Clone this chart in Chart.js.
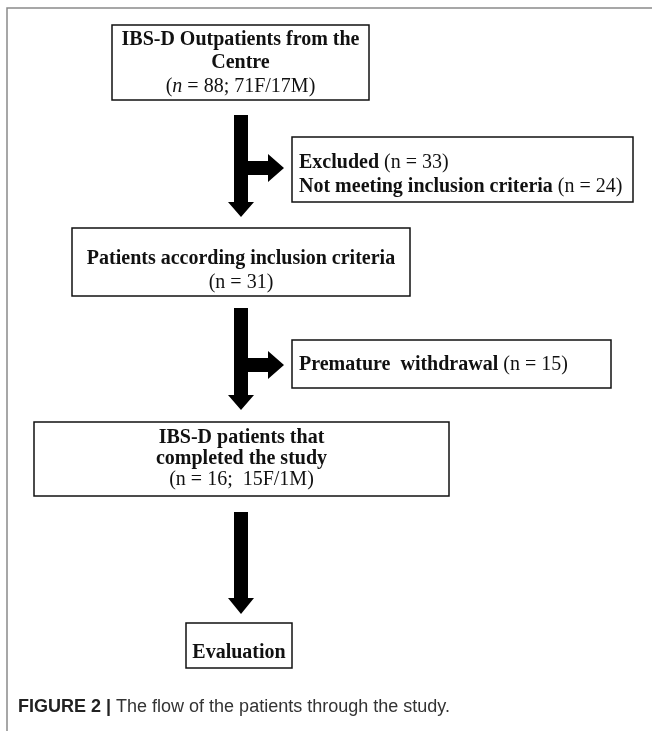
<!DOCTYPE html>
<html>
<head>
<meta charset="utf-8">
<script src="https://cdn.jsdelivr.net/npm/chart.js@4.4.1/dist/chart.umd.min.js"></script>
<style>
  body { margin: 0; background: #fff; }
  canvas { display: block; }
</style>
</head>
<body>
<canvas id="flowChart" width="652" height="731"></canvas>
<script>
// Étapes du parcours des patients
const stages = [
    'IBS-D Outpatients from the Centre',
    'Excluded',
    'Not meeting inclusion criteria',
    'Patients according inclusion criteria',
    'Premature  withdrawal',
    'IBS-D patients that completed the study',
    'Evaluation'
];
const patientCounts = [88, 33, 24, 31, 15, 16, null];
const femaleCounts = [71, null, null, null, null, 15, null];
const maleCounts = [17, null, null, null, null, 1, null];
const captionLabel = 'FIGURE 2 |';
const captionText = ' The flow of the patients through the study.';

// Mise en page (unités des échelles x / y)
const boxes = [
    { x0: 112, x1: 369, y0: 25, y1: 100, align: 'center', lines: [
        { y: 40, stage: 0, words: [0, 4] },
        { y: 63, stage: 0, words: [4, 5] },
        { y: 87, count: 0, italicN: true }
    ] },
    { x0: 292, x1: 633, y0: 137, y1: 202, align: 'left', tx: 299, lines: [
        { y: 163, stage: 1, count: 1 },
        { y: 187, stage: 2, count: 2 }
    ] },
    { x0: 72, x1: 410, y0: 228, y1: 296, align: 'center', lines: [
        { y: 259, stage: 3 },
        { y: 283, count: 3 }
    ] },
    { x0: 292, x1: 611, y0: 340, y1: 388, align: 'left', tx: 299, lines: [
        { y: 365, stage: 4, count: 4 }
    ] },
    { x0: 34, x1: 449, y0: 422, y1: 496, align: 'center', lines: [
        { y: 438, stage: 5, words: [0, 3] },
        { y: 459, stage: 5, words: [3, 6] },
        { y: 480, count: 5, sep: ';  ' }
    ] },
    { x0: 186, x1: 292, y0: 623, y1: 668, align: 'center', lines: [
        { y: 653, stage: 6 }
    ] }
];
// Flèches : tige verticale, branche éventuelle vers la droite
const arrows = [
    { x: 241, top: 115, headBase: 202, tip: 217, branchY: 168, branchEnd: 268, branchTip: 284 },
    { x: 241, top: 308, headBase: 395, tip: 410, branchY: 365, branchEnd: 268, branchTip: 284 },
    { x: 241, top: 512, headBase: 598, tip: 614 }
];

const SERIF = '"Liberation Serif", "DejaVu Serif", serif';
const FONT_SIZE = 20;

function lineRuns(line) {
    const runs = [];
    if (line.stage !== undefined) {
        let txt = stages[line.stage];
        if (line.words) {
            txt = txt.split(' ').slice(line.words[0], line.words[1]).join(' ');
        }
        runs.push([txt, 'bold']);
    }
    if (line.count !== undefined) {
        const i = line.count;
        const pre = runs.length ? ' (' : '(';
        if (line.italicN) {
            runs.push([pre, '']);
            runs.push(['n', 'italic']);
            runs.push([' = ' + patientCounts[i], '']);
        } else {
            runs.push([pre + 'n = ' + patientCounts[i], '']);
        }
        if (femaleCounts[i] !== null) {
            runs.push([(line.sep || '; ') + femaleCounts[i] + 'F/' + maleCounts[i] + 'M)', '']);
        } else {
            runs.push([')', '']);
        }
    }
    return runs;
}

const flowPlugin = {
    id: 'flowPlugin',
    afterDraw(chart) {
        const ctx = chart.ctx;
        const sx = chart.scales.x, sy = chart.scales.y;
        const px = v => sx.getPixelForValue(v);
        const py = v => sy.getPixelForValue(v);
        ctx.save();

        // Cadre de la figure
        ctx.strokeStyle = '#8a8a8a';
        ctx.lineWidth = 1.5;
        ctx.beginPath();
        ctx.moveTo(px(652), py(8));
        ctx.lineTo(px(7), py(8));
        ctx.lineTo(px(7), py(731));
        ctx.stroke();

        // Boîtes
        boxes.forEach(b => {
            ctx.strokeStyle = '#111';
            ctx.lineWidth = 1.5;
            ctx.strokeRect(px(b.x0), py(b.y0), px(b.x1) - px(b.x0), py(b.y1) - py(b.y0));
            ctx.fillStyle = '#111';
            ctx.textBaseline = 'middle';
            ctx.textAlign = 'left';
            b.lines.forEach(line => {
                const runs = lineRuns(line);
                const widths = runs.map(r => {
                    ctx.font = `${r[1]} ${FONT_SIZE}px ${SERIF}`;
                    return ctx.measureText(r[0]).width;
                });
                const total = widths.reduce((a, c) => a + c, 0);
                let x = b.align === 'center' ? (px(b.x0) + px(b.x1)) / 2 - total / 2 : px(b.tx);
                runs.forEach((r, k) => {
                    ctx.font = `${r[1]} ${FONT_SIZE}px ${SERIF}`;
                    ctx.fillText(r[0], x, py(line.y));
                    x += widths[k];
                });
            });
        });

        // Flèches
        ctx.fillStyle = '#000';
        const half = 7, headHalf = 13, bHalf = 7, bHeadHalf = 14;
        arrows.forEach(a => {
            ctx.beginPath();
            ctx.moveTo(px(a.x - half), py(a.top));
            ctx.lineTo(px(a.x + half), py(a.top));
            if (a.branchY !== undefined) {
                ctx.lineTo(px(a.x + half), py(a.branchY - bHalf));
                ctx.lineTo(px(a.branchEnd), py(a.branchY - bHalf));
                ctx.lineTo(px(a.branchEnd), py(a.branchY - bHeadHalf));
                ctx.lineTo(px(a.branchTip), py(a.branchY));
                ctx.lineTo(px(a.branchEnd), py(a.branchY + bHeadHalf));
                ctx.lineTo(px(a.branchEnd), py(a.branchY + bHalf));
                ctx.lineTo(px(a.x + half), py(a.branchY + bHalf));
            }
            ctx.lineTo(px(a.x + half), py(a.headBase));
            ctx.lineTo(px(a.x + headHalf), py(a.headBase));
            ctx.lineTo(px(a.x), py(a.tip));
            ctx.lineTo(px(a.x - headHalf), py(a.headBase));
            ctx.lineTo(px(a.x - half), py(a.headBase));
            ctx.closePath();
            ctx.fill();
        });

        // Légende de la figure
        ctx.textAlign = 'left';
        ctx.fillStyle = '#222';
        ctx.font = 'bold 18px "Liberation Sans", Arial, sans-serif';
        ctx.fillText(captionLabel, px(18), py(707));
        const w = ctx.measureText(captionLabel).width;
        ctx.fillStyle = '#333';
        ctx.font = '18px "Liberation Sans", Arial, sans-serif';
        ctx.fillText(captionText, px(18) + w, py(707));

        ctx.restore();
    }
};

new Chart(document.getElementById('flowChart'), {
    type: 'scatter',
    data: {
        datasets: [{
            data: boxes.map(b => ({ x: (b.x0 + b.x1) / 2, y: (b.y0 + b.y1) / 2 })),
            pointRadius: 0,
            showLine: false
        }]
    },
    options: {
        responsive: false,
        animation: false,
        layout: { padding: 0 },
        plugins: { legend: { display: false }, tooltip: { enabled: false } },
        scales: {
            x: { type: 'linear', min: 0, max: 652, display: false },
            y: { type: 'linear', min: 0, max: 731, reverse: true, display: false }
        }
    },
    plugins: [flowPlugin]
});
</script>
</body>
</html>
